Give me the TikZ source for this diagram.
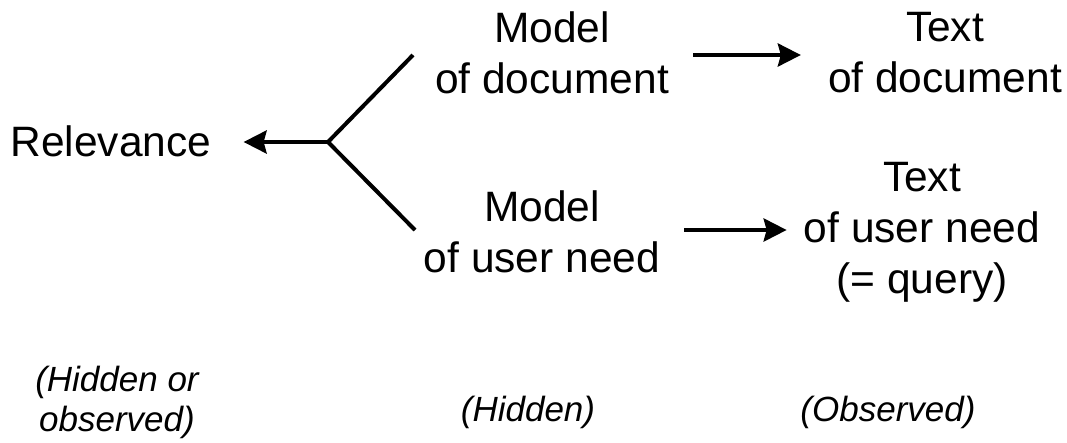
\documentclass[tikz,border=0pt]{standalone}
\usepackage{fontspec}
\setmainfont{Liberation Sans}
\usetikzlibrary{arrows.meta}
\begin{document}
\begin{tikzpicture}[x=1pt,y=-1pt,
  lbl/.style={anchor=north,inner sep=0pt,align=center,
    font=\fontsize{42.5}{51}\selectfont},
  note/.style={anchor=north,inner sep=0pt,align=center,
    font=\fontsize{35}{40}\selectfont\itshape},
  link/.style={line width=4pt},
  arr/.style={link,-{Stealth[length=23pt,width=23pt,inset=3pt]}}]
\useasboundingbox (0,0) rectangle (1067,442);

% variables
\node[lbl] (R)  at (111,126) {Relevance};
\node[lbl] (MD) at (552,12)  {Model\\of document};
\node[lbl] (TD) at (945,12)  {Text\\of document};
\node[lbl] (MU) at (542,190) {Model\\of user need};
\node[lbl] (TU) at (922,162) {Text\\of user need\\(= query)};

% status of each column
\node[note] (HO) at (117,366) {(Hidden or\\observed)};
\node[note] (HI) at (528,396) {(Hidden)};
\node[note] (OB) at (888,396) {(Observed)};

% fork joining the two models into relevance
\coordinate (J)  at (328,142);
\coordinate (Yt) at (413,55);
\coordinate (Yb) at (415,230);
\draw[link] (Yt) -- (J) -- (Yb);
\draw[arr,shorten >=32pt] (J) -- (J -| R.east);

% generation of observed text from each model
\draw[arr,shorten <=24pt,shorten >=27pt] (MD.east |- Yt) -- (TD.west |- Yt);
\draw[arr,shorten <=24pt,shorten >=17pt] (MU.east |- Yb) -- (TU.west |- Yb);
\end{tikzpicture}
\end{document}
